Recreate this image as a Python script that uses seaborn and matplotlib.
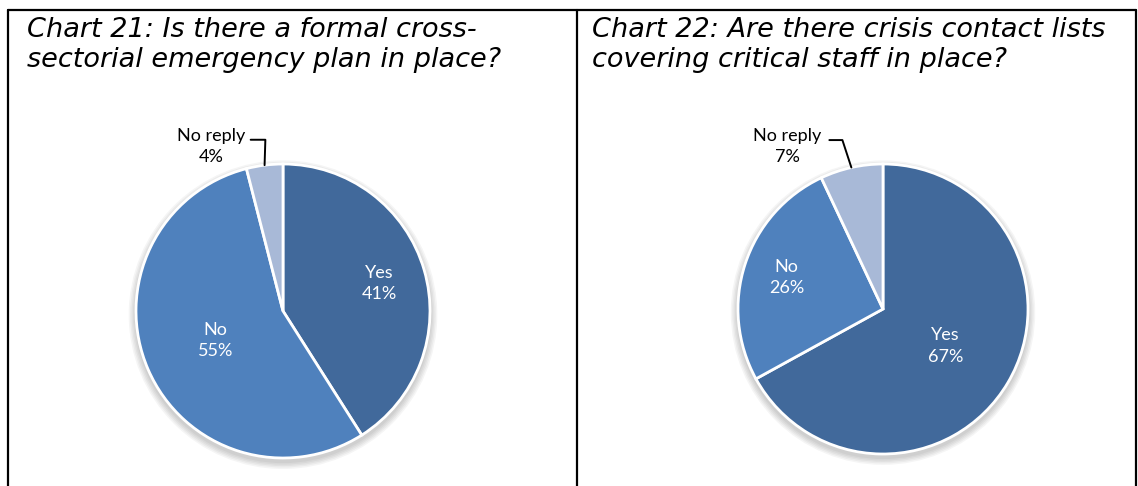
import numpy as np
import matplotlib
matplotlib.use("Agg")
import matplotlib.pyplot as plt
from matplotlib.lines import Line2D
from matplotlib.patches import Circle
import seaborn as sns

# data
categories = ["Yes", "No", "No reply"]
plan_values = [41, 55, 4]
contact_values = [67, 26, 7]
titles = ["Chart 21: Is there a formal cross-\nsectorial emergency plan in place?",
          "Chart 22: Are there crisis contact lists\ncovering critical staff in place?"]

colors = ["#41699B", "#4F81BD", "#A8B9D7"]

sns.set_theme(style="white")
plt.rcParams["font.family"] = ["DejaVu Sans"]

W, H = 1138, 486
fig = plt.figure(figsize=(W / 100, H / 100), dpi=100)
fig.patch.set_facecolor("white")


def px_axes(cx, cy, r):
    # axes placed in pixel coords (y from top)
    return fig.add_axes([(cx - r) / W, 1 - (cy + r) / H, 2 * r / W, 2 * r / H])


def draw_pie(ax, values, inner_dist, label_pos):
    # soft shadow
    for k in range(5):
        ax.add_patch(Circle((0.0, -0.025), 1.0 + 0.01 * (5 - k), color="black",
                            alpha=0.04, lw=0, zorder=0, clip_on=False))
    wedges, _ = ax.pie(values, colors=colors, startangle=90, counterclock=False,
                       wedgeprops=dict(edgecolor="white", linewidth=2))
    for w in wedges:
        w.set_zorder(2)
    for i, w in enumerate(wedges):
        mid = np.deg2rad((w.theta1 + w.theta2) / 2)
        txt = f"{categories[i]}\n{values[i]}%"
        if i < 2:
            d = inner_dist[i]
            ax.text(d * np.cos(mid), d * np.sin(mid), txt, ha="center", va="center",
                    color="white", fontsize=13, family="Lato", linespacing=1.4,
                    zorder=3)
        else:
            ex, ey = np.cos(mid), np.sin(mid)
            lx, ly, line_start, elbow_x = label_pos
            ax.plot([line_start, elbow_x, ex], [1.165, 1.165, ey], color="black",
                    lw=1.4, clip_on=False, zorder=3)
            ax.text(lx, ly, txt, ha="center", va="center", color="black",
                    fontsize=13, family="Lato", linespacing=1.4, zorder=3)
    ax.set_xlim(-1, 1)
    ax.set_ylim(-1, 1)
    ax.set_aspect("equal")
    ax.axis("off")


ax1 = px_axes(283, 311, 147)
draw_pie(ax1, plan_values, [0.68, 0.5], (-0.49, 1.12, -0.22, -0.12))

ax2 = px_axes(883, 309, 145)
draw_pie(ax2, contact_values, [0.5, 0.7], (-0.66, 1.12, -0.37, -0.28))

# titles
fig.text(27 / W, 1 - 17 / H, titles[0], ha="left", va="top", fontsize=19.5,
         style="italic", color="black", linespacing=1.22)
fig.text(592 / W, 1 - 17 / H, titles[1], ha="left", va="top", fontsize=19.5,
         style="italic", color="black", linespacing=1.22)

# panel borders
for xs, ys in [([8, 1136], [10.5, 10.5]), ([8, 8], [10.5, 486]),
               ([577, 577], [10.5, 486]), ([1136, 1136], [10.5, 486])]:
    fig.add_artist(Line2D([x / W for x in xs], [1 - y / H for y in ys],
                          color="black", lw=1.6))

fig.savefig("out.png", dpi=100, facecolor="white")
